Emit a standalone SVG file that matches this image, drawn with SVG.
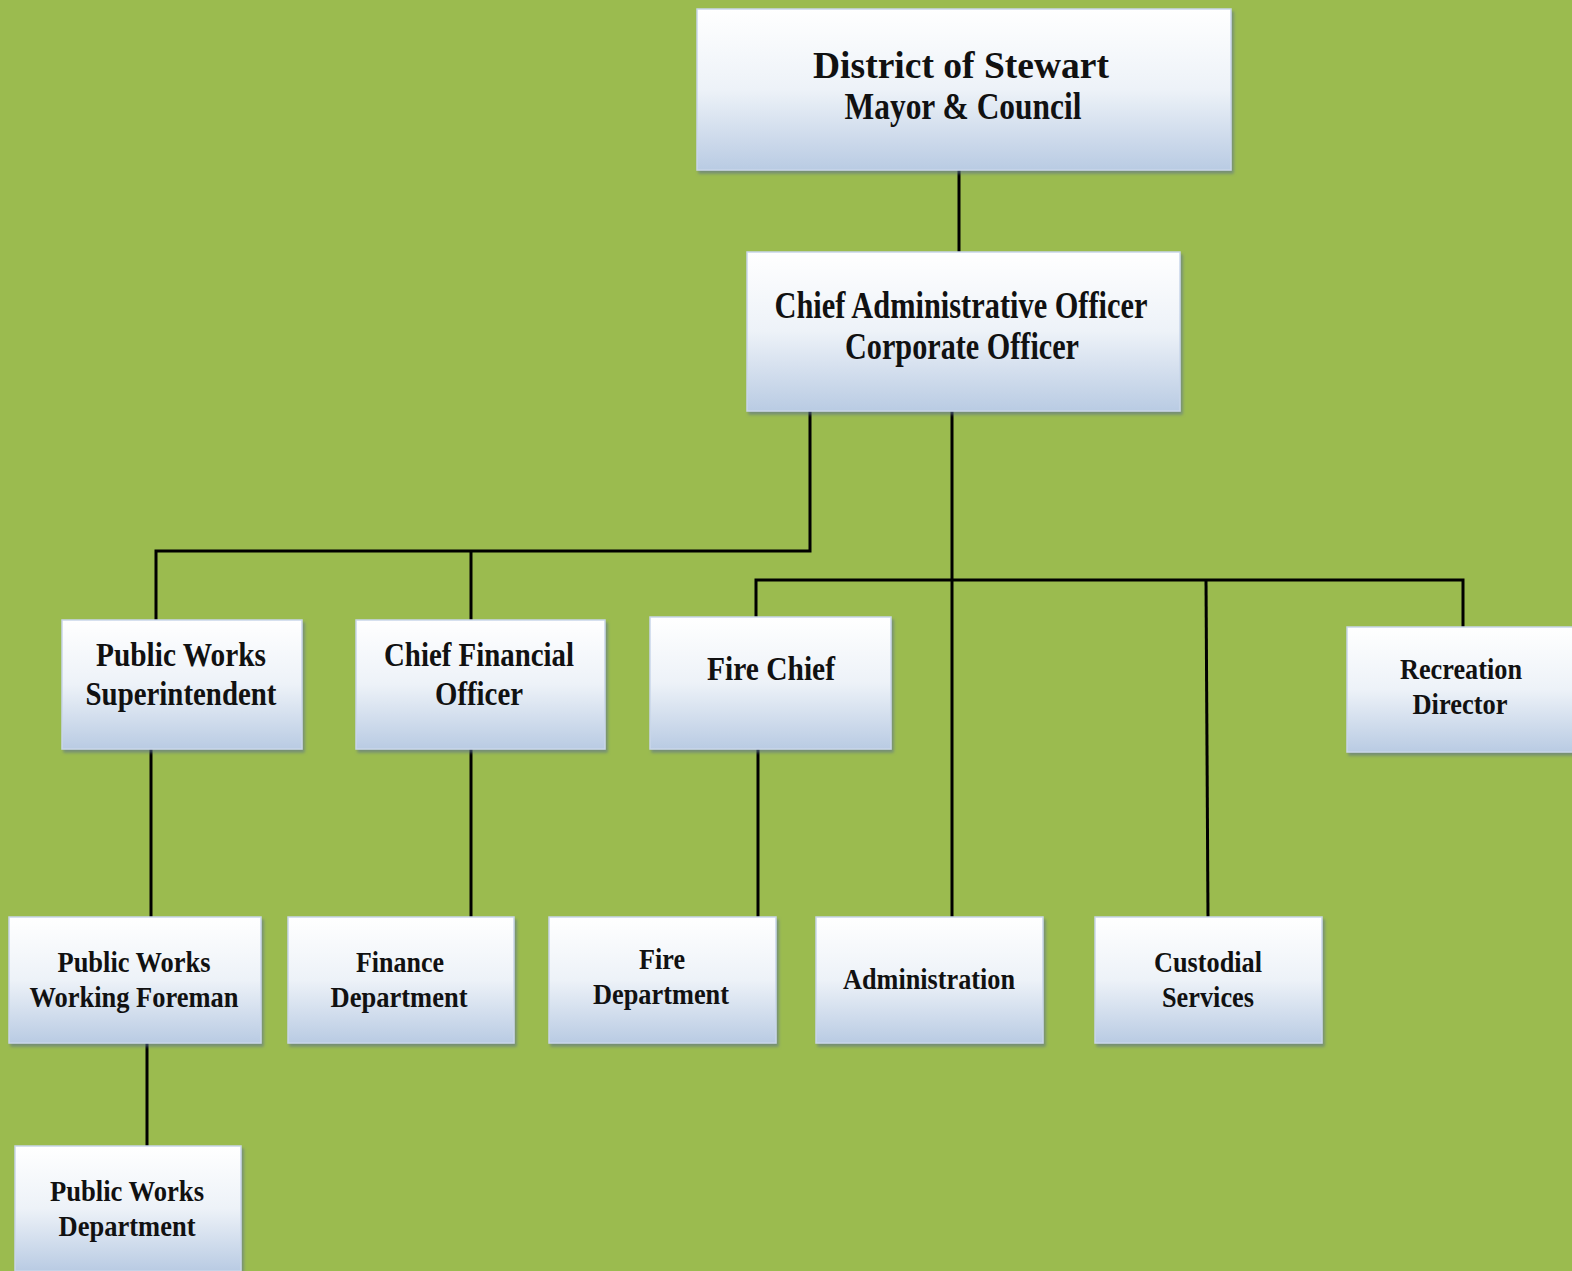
<svg xmlns="http://www.w3.org/2000/svg" width="1572" height="1271" viewBox="0 0 1572 1271">
<defs>
<linearGradient id="g" x1="0" y1="0" x2="0" y2="1">
<stop offset="0" stop-color="#ffffff"/>
<stop offset="0.5" stop-color="#edf2f8"/>
<stop offset="1" stop-color="#b9cbe3"/>
</linearGradient>
<filter id="sh" x="-5%" y="-5%" width="110%" height="115%">
<feDropShadow dx="2" dy="3" stdDeviation="1.5" flood-color="#5a6f8f" flood-opacity="0.6"/>
</filter>
</defs>
<style>
.box{fill:url(#g);stroke:#c9d6ea;stroke-width:1.5;filter:url(#sh)}
.t{font-family:"Liberation Serif","Times New Roman",serif;font-weight:bold;fill:#111;text-anchor:middle}
.t1{font-size:37px}
.t2{font-size:34px}
.t3{font-size:30px}
.c{stroke:#000;stroke-width:3;fill:none}
</style>
<rect width="1572" height="1271" fill="#9bbb4f"/>
<g id="connectors">
<path class="c" d="M959,170V253"/>
<path class="c" d="M810,411V551H156V621"/>
<path class="c" d="M471,551V621"/>
<path class="c" d="M952,411V918"/>
<path class="c" d="M756,618V580H1463V628"/>
<path class="c" d="M1206,580L1208,918"/>
<path class="c" d="M151,749V918"/>
<path class="c" d="M471,749V918"/>
<path class="c" d="M758,749V918"/>
<path class="c" d="M147,1043V1147"/>
</g>
<g id="district">
<rect class="box" x="697" y="9" width="534" height="161"/>
<text class="t t1" x="961" y="78" textLength="296" lengthAdjust="spacingAndGlyphs">District of Stewart</text>
<text class="t t1" x="963" y="119" textLength="237" lengthAdjust="spacingAndGlyphs">Mayor &amp; Council</text>
</g>
<g id="cao">
<rect class="box" x="747" y="252" width="433" height="159"/>
<text class="t t1" x="961" y="318" textLength="373" lengthAdjust="spacingAndGlyphs">Chief Administrative Officer</text>
<text class="t t1" x="962" y="359" textLength="234" lengthAdjust="spacingAndGlyphs">Corporate Officer</text>
</g>
<g id="pw-super">
<rect class="box" x="62" y="620" width="240" height="129"/>
<text class="t t2" x="181" y="666" textLength="170" lengthAdjust="spacingAndGlyphs">Public Works</text>
<text class="t t2" x="181" y="705" textLength="191" lengthAdjust="spacingAndGlyphs">Superintendent</text>
</g>
<g id="cfo">
<rect class="box" x="356" y="620" width="249" height="129"/>
<text class="t t2" x="479" y="666" textLength="190" lengthAdjust="spacingAndGlyphs">Chief Financial</text>
<text class="t t2" x="479" y="705" textLength="88" lengthAdjust="spacingAndGlyphs">Officer</text>
</g>
<g id="fire-chief">
<rect class="box" x="650" y="617" width="241" height="132"/>
<text class="t t2" x="771" y="680" textLength="128" lengthAdjust="spacingAndGlyphs">Fire Chief</text>
</g>
<g id="recreation">
<rect class="box" x="1347" y="627" width="228" height="125"/>
<text class="t t3" x="1461" y="679" textLength="122" lengthAdjust="spacingAndGlyphs">Recreation</text>
<text class="t t3" x="1460" y="714" textLength="95" lengthAdjust="spacingAndGlyphs">Director</text>
</g>
<g id="pw-foreman">
<rect class="box" x="9" y="917" width="252" height="126"/>
<text class="t t3" x="134" y="972" textLength="153" lengthAdjust="spacingAndGlyphs">Public Works</text>
<text class="t t3" x="134" y="1007" textLength="209" lengthAdjust="spacingAndGlyphs">Working Foreman</text>
</g>
<g id="finance">
<rect class="box" x="288" y="917" width="226" height="126"/>
<text class="t t3" x="400" y="972" textLength="88" lengthAdjust="spacingAndGlyphs">Finance</text>
<text class="t t3" x="399" y="1007" textLength="137" lengthAdjust="spacingAndGlyphs">Department</text>
</g>
<g id="fire-dept">
<rect class="box" x="549" y="917" width="227" height="126"/>
<text class="t t3" x="662" y="969" textLength="46" lengthAdjust="spacingAndGlyphs">Fire</text>
<text class="t t3" x="661" y="1004" textLength="136" lengthAdjust="spacingAndGlyphs">Department</text>
</g>
<g id="administration">
<rect class="box" x="816" y="917" width="227" height="126"/>
<text class="t t3" x="929" y="989" textLength="172" lengthAdjust="spacingAndGlyphs">Administration</text>
</g>
<g id="custodial">
<rect class="box" x="1095" y="917" width="227" height="126"/>
<text class="t t3" x="1208" y="972" textLength="108" lengthAdjust="spacingAndGlyphs">Custodial</text>
<text class="t t3" x="1208" y="1007" textLength="92" lengthAdjust="spacingAndGlyphs">Services</text>
</g>
<g id="pw-dept">
<rect class="box" x="15" y="1146" width="226" height="125"/>
<text class="t t3" x="127" y="1201" textLength="154" lengthAdjust="spacingAndGlyphs">Public Works</text>
<text class="t t3" x="127" y="1236" textLength="137" lengthAdjust="spacingAndGlyphs">Department</text>
</g>
</svg>
